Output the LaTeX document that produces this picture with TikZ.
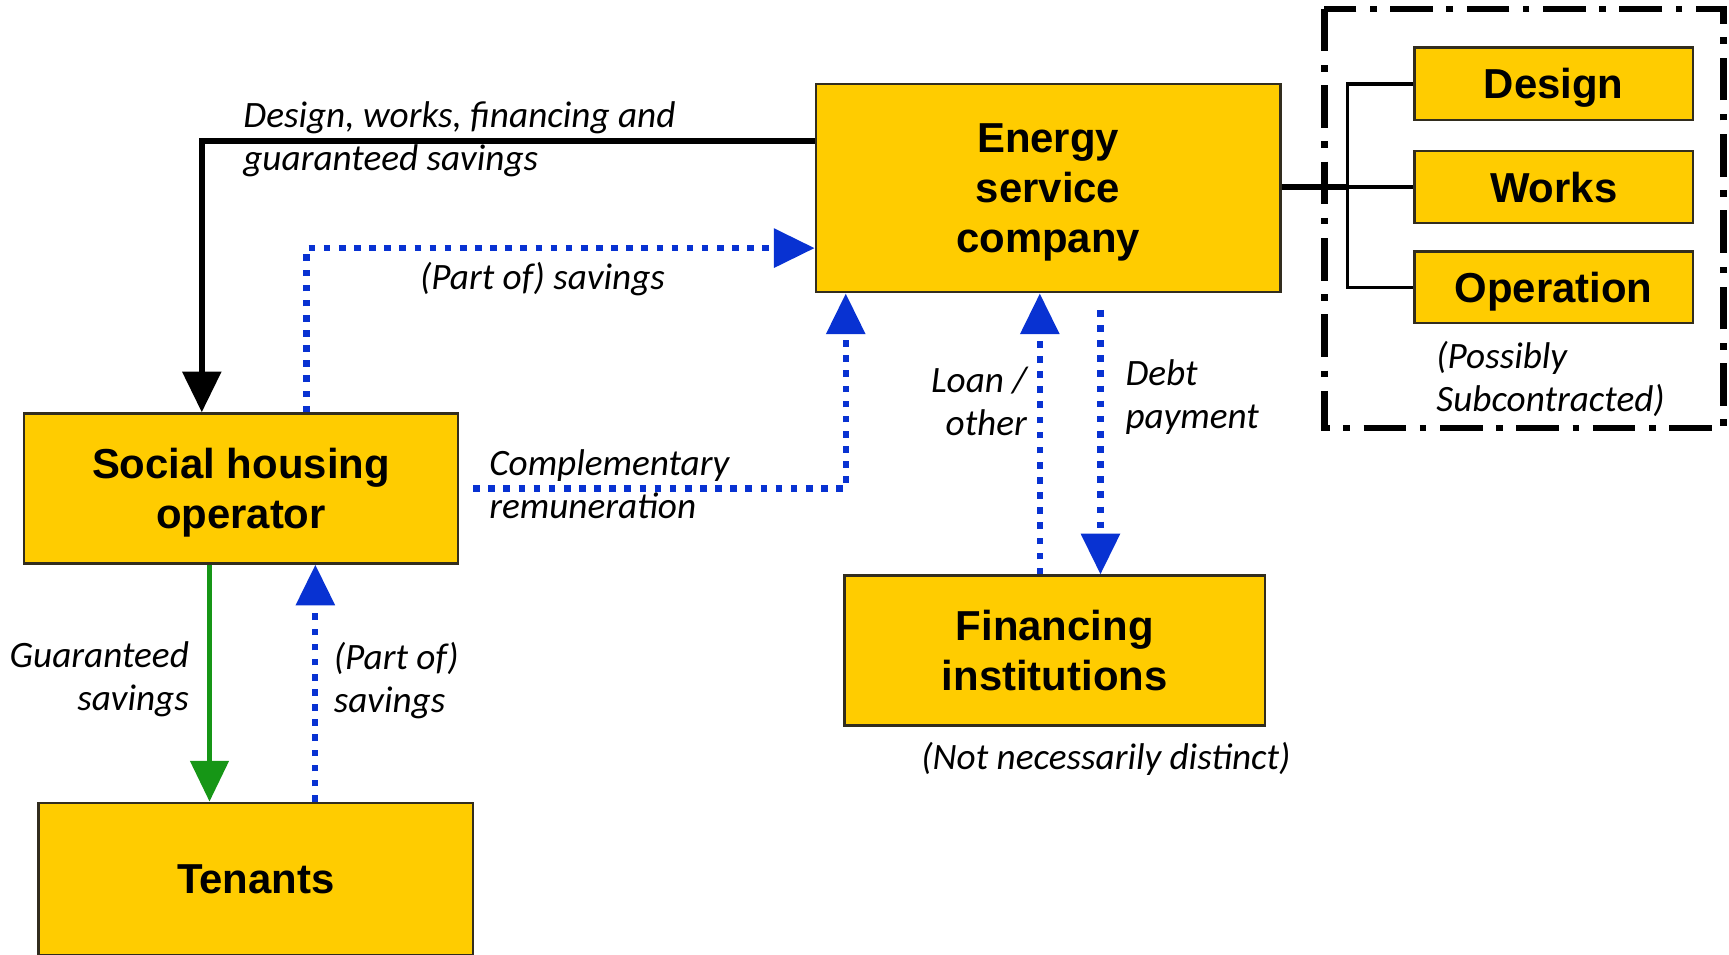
\documentclass[tikz,border=0pt]{standalone}
\usepackage{fontspec}
\setmainfont{Liberation Sans}
\newfontfamily\labfont{Carlito}
\usetikzlibrary{arrows.meta}
\definecolor{boxyellow}{RGB}{255,204,0}
\definecolor{boxedge}{RGB}{50,45,30}
\definecolor{flowblue}{RGB}{8,50,210}
\definecolor{flowgreen}{RGB}{22,150,22}
\tikzset{
  boxnode/.style={draw=boxedge, line width=0.6pt, fill=boxyellow, inner sep=0pt, align=center,
    text depth=0pt, font=\fontsize{10.8pt}{13pt}\selectfont\bfseries},
  labnode/.style={inner sep=0pt, font=\labfont\fontsize{9.6pt}{11.1pt}\selectfont\itshape},
  tipb/.style={-{Triangle[length=10.5pt,width=9.8pt]}},
  blackflow/.style={tipb, line width=1.5pt, black},
  blueflow/.style={tipb, line width=1.6pt, flowblue, dash pattern=on 1.7pt off 2.2pt},
  greenflow/.style={tipb, line width=1.2pt, flowgreen},
  treeline/.style={line width=0.9pt, black},
  groupframe/.style={line width=1.7pt, black, dash pattern=on 11pt off 3.5pt on 1.7pt off 3.5pt}
}
\begin{document}
\begin{tikzpicture}[x=0.01cm, y=-0.01cm]
\useasboundingbox (0,0) rectangle (1568,866);

% boxes
\node[boxnode, minimum width=4.21cm, minimum height=1.89cm] (esco) at (950.5,170.5) {Energy\\service\\company};
\node[boxnode, minimum width=3.93cm, minimum height=1.36cm] (sho) at (218.5,443) {Social housing\\operator};
\node[boxnode, minimum width=3.94cm, minimum height=1.38cm] (ten) at (232,797) {Tenants};
\node[boxnode, minimum width=3.81cm, minimum height=1.36cm] (fi) at (956.5,590) {Financing\\institutions};
\node[boxnode, minimum width=2.52cm, minimum height=0.66cm] (design) at (1409,76) {Design};
\node[boxnode, minimum width=2.52cm, minimum height=0.65cm] (works) at (1409,169.5) {Works};
\node[boxnode, minimum width=2.52cm, minimum height=0.65cm] (oper) at (1409,260.5) {Operation};

% subcontracting group
\draw[groupframe] (1201,8) rectangle (1563,388);
\coordinate (tx) at (1222,0);
\draw[line width=1.4pt] (works.west -| esco.east) -- (works.west -| tx);
\draw[treeline] (design.west) -- (design.west -| tx) -- (oper.west -| tx) -- (oper.west);
\draw[treeline] (works.west -| tx) -- (works.west);

% coordinates for bends
\coordinate (c1) at (183,128);
\coordinate (c2) at (278,225);
\coordinate (c3) at (767,443);
\coordinate (c4) at (943,0);
\coordinate (c5) at (998,0);
\coordinate (c6) at (190,0);
\coordinate (c7) at (286,0);

% connectors
\draw[blackflow] (c1 -| esco.west) -- (c1) -- (c1 |- sho.north);
\draw[blueflow] (c2 |- sho.north) -- (c2) -- (c2 -| esco.west);
\draw[blueflow] ([xshift=0.13cm]c3 -| sho.east) -- (c3) -- (c3 |- esco.south);
\draw[blueflow] (c4 |- fi.north) -- (c4 |- esco.south);
\draw[blueflow] ([yshift=-0.15cm]c5 |- esco.south) -- (c5 |- fi.north);
\draw[greenflow] (c6 |- sho.south) -- (c6 |- ten.north);
\draw[blueflow] (c7 |- ten.north) -- (c7 |- sho.south);

% labels
\node[labnode, anchor=west, align=left] (l1) at (220,126) {Design, works, financing and\\guaranteed savings};
\node[labnode] (l2) at (492,253) {(Part of) savings};
\node[labnode, anchor=west, align=left] (l3) at (443,439) {Complementary\\remuneration};
\node[labnode, anchor=east, align=right] (l4) at (932,364) {Loan /\\other};
\node[labnode, anchor=west, align=left] (l5) at (1020,360) {Debt\\payment};
\node[labnode, anchor=east, align=right] (l6) at (172,616) {Guaranteed\\savings};
\node[labnode, anchor=west, align=left] (l7) at (302,617) {(Part of)\\savings};
\node[labnode, anchor=west, align=left] (l8) at (1302,344) {(Possibly\\Subcontracted)};
\node[labnode] (l9) at (1003,688) {(Not necessarily distinct)};
\end{tikzpicture}
\end{document}
